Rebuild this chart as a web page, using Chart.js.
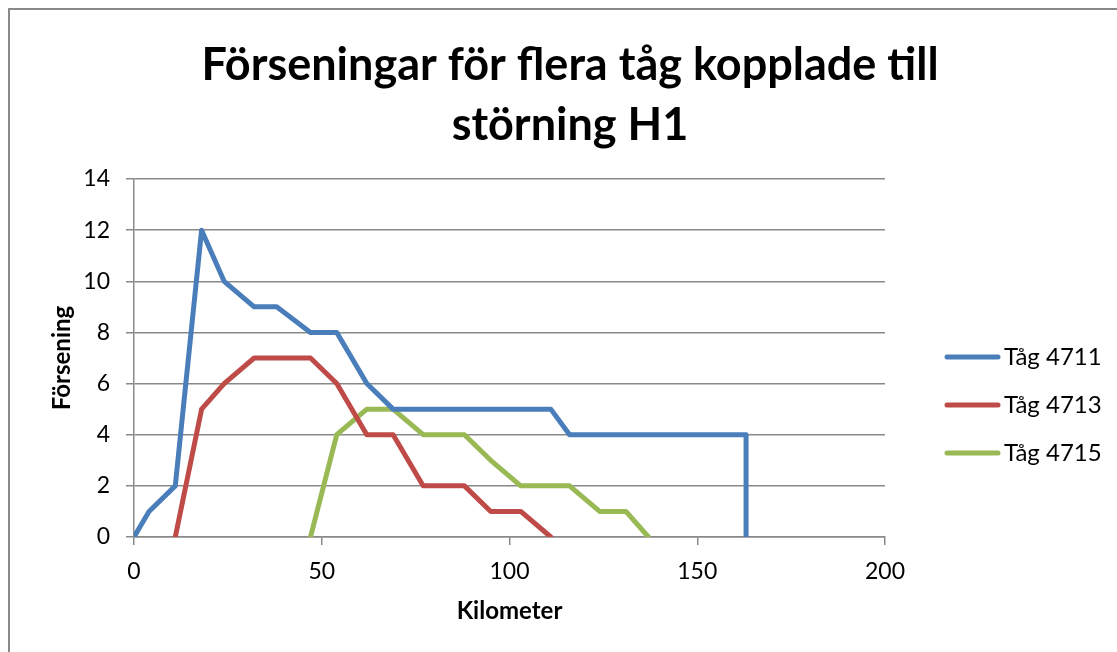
<!DOCTYPE html>
<html>
<head>
<meta charset="utf-8">
<script src="https://cdn.jsdelivr.net/npm/chart.js@4"></script>
<style>
  html, body { margin: 0; padding: 0; background: #fff; overflow: hidden; }
  .frame { position: absolute; left: 8px; top: 8px; width: 1200px; height: 800px; border: 2px solid #898989; }
  canvas { position: absolute; left: 0; top: 0; }
</style>
</head>
<body>
<div class="frame"></div>
<canvas id="chart" width="1117" height="652"></canvas>
<script>
const FONT = 'Lato, "Open Sans", "DejaVu Sans", sans-serif';

const seriesNames = ['Tåg 4711', 'Tåg 4713', 'Tåg 4715'];
const seriesColors = ['#4a7ebb', '#be4b48', '#98b954'];

// kilometer / försening per tåg
const km4711 = [0, 4, 11, 18, 24, 32, 38, 47, 54, 62, 69, 77, 88, 95, 103, 111, 116, 124, 131, 137, 163, 163];
const delay4711 = [0, 1, 2, 12, 10, 9, 9, 8, 8, 6, 5, 5, 5, 5, 5, 5, 4, 4, 4, 4, 4, 0];
const km4713 = [11, 18, 24, 32, 38, 47, 54, 62, 69, 77, 88, 95, 103, 111];
const delay4713 = [0, 5, 6, 7, 7, 7, 6, 4, 4, 2, 2, 1, 1, 0];
const km4715 = [47, 54, 62, 69, 77, 88, 95, 103, 111, 116, 124, 131, 137];
const delay4715 = [0, 4, 5, 5, 4, 4, 3, 2, 2, 2, 1, 1, 0];

const titleLines = ['Förseningar för flera tåg kopplade till', 'störning H1'];
const xTitle = 'Kilometer';
const yTitle = 'Försening';

const toPoints = (xs, ys) => xs.map((x, i) => ({ x: x, y: ys[i] }));
const allKm = [km4711, km4713, km4715];
const allDelay = [delay4711, delay4713, delay4715];

const datasets = seriesNames.map((name, i) => ({
  label: name,
  data: toPoints(allKm[i], allDelay[i]),
  borderColor: seriesColors[i],
  backgroundColor: seriesColors[i],
  borderWidth: 5,
  borderJoinStyle: 'round',
  borderCapStyle: 'round',
  showLine: true,
  pointRadius: 0,
  tension: 0
}));

// title centred over the whole frame, not just the plot
const frameTitle = {
  id: 'frameTitle',
  afterDraw(chart) {
    const ctx = chart.ctx;
    ctx.save();
    ctx.fillStyle = '#000';
    ctx.font = 'bold 45px ' + FONT;
    ctx.textAlign = 'center';
    ctx.textBaseline = 'middle';
    titleLines.forEach((line, i) => ctx.fillText(line, 570, 65 + i * 60));
    ctx.restore();
  }
};

// Excel-style legend on the right
const sideLegend = {
  id: 'sideLegend',
  afterDraw(chart) {
    const ctx = chart.ctx;
    ctx.save();
    chart.data.datasets.forEach((ds, i) => {
      const y = 357 + i * 48;
      ctx.strokeStyle = ds.borderColor;
      ctx.lineWidth = 5;
      ctx.lineCap = 'round';
      ctx.beginPath();
      ctx.moveTo(947, y);
      ctx.lineTo(998, y);
      ctx.stroke();
      ctx.fillStyle = '#000';
      ctx.font = '24px ' + FONT;
      ctx.textBaseline = 'middle';
      ctx.textAlign = 'left';
      ctx.fillText(ds.label, 1004, y);
    });
    ctx.restore();
  }
};

new Chart(document.getElementById('chart'), {
  type: 'scatter',
  data: { datasets: datasets },
  plugins: [frameTitle, sideLegend],
  options: {
    responsive: false,
    animation: false,
    layout: { padding: { left: 0, right: 232, top: 179, bottom: 0 } },
    plugins: {
      legend: { display: false },
      tooltip: { enabled: false },
      title: { display: false }
    },
    scales: {
      x: {
        type: 'linear',
        min: 0,
        max: 200,
        afterFit: s => { s.height = 652 - 537; },
        ticks: { stepSize: 50, color: '#000', padding: 13, font: { family: FONT, size: 23 } },
        grid: { drawOnChartArea: false, drawTicks: true, tickLength: 8, color: '#898989', lineWidth: 1.5 },
        border: { color: '#898989', width: 1.5 },
        title: { display: true, text: xTitle, color: '#000', font: { family: FONT, size: 24, weight: 'bold' }, padding: { top: 0, bottom: 26 } }
      },
      y: {
        min: 0,
        max: 14,
        afterFit: s => { s.width = 134; },
        ticks: { stepSize: 2, color: '#000', padding: 16, font: { family: FONT, size: 23 } },
        grid: { color: '#898989', lineWidth: 1.5, tickLength: 8 },
        border: { color: '#898989', width: 1.5 },
        title: { display: true, text: yTitle, color: '#000', font: { family: FONT, size: 24, weight: 'bold' }, padding: { top: 48, bottom: 0 } }
      }
    }
  }
});
</script>
</body>
</html>
